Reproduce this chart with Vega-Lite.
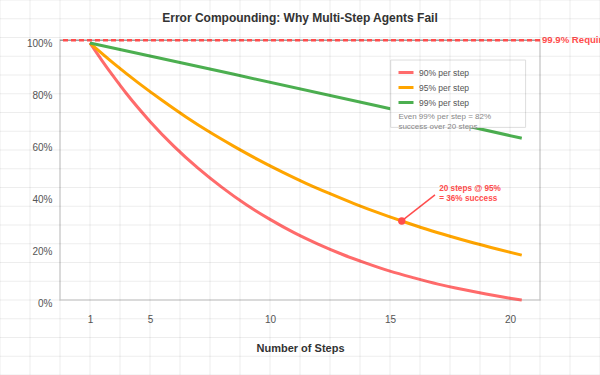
{
  "$schema": "https://vega.github.io/schema/vega-lite/v6.json",
  "width": 480,
  "height": 260,
  "autosize": {"type": "none"},
  "padding": {"left": 60, "top": 40, "right": 60, "bottom": 75},
  "background": "white",
  "config": {
    "font": "Liberation Sans",
    "view": {"stroke": "#d9d9d9", "strokeWidth": 1.5}
  },
  "datasets": {
    "curves": [
      {"series": "90% per step", "step": 2.5, "pct": 98.9},
      {"series": "90% per step", "step": 3.0, "pct": 92.1},
      {"series": "90% per step", "step": 3.5, "pct": 85.7},
      {"series": "90% per step", "step": 4.0, "pct": 79.6},
      {"series": "90% per step", "step": 5.0, "pct": 68.7},
      {"series": "90% per step", "step": 6.0, "pct": 59.1},
      {"series": "90% per step", "step": 7.0, "pct": 50.7},
      {"series": "90% per step", "step": 8.0, "pct": 43.3},
      {"series": "90% per step", "step": 9.0, "pct": 36.7},
      {"series": "90% per step", "step": 10.0, "pct": 31.0},
      {"series": "90% per step", "step": 11.0, "pct": 25.9},
      {"series": "90% per step", "step": 12.0, "pct": 21.5},
      {"series": "90% per step", "step": 13.0, "pct": 17.6},
      {"series": "90% per step", "step": 14.0, "pct": 14.2},
      {"series": "90% per step", "step": 15.0, "pct": 11.1},
      {"series": "90% per step", "step": 16.0, "pct": 8.5},
      {"series": "90% per step", "step": 17.0, "pct": 6.1},
      {"series": "90% per step", "step": 18.0, "pct": 4.1},
      {"series": "90% per step", "step": 19.0, "pct": 2.3},
      {"series": "90% per step", "step": 20.0, "pct": 0.7},
      {"series": "90% per step", "step": 20.49, "pct": 0.0},
      {"series": "95% per step", "step": 2.5, "pct": 98.8},
      {"series": "95% per step", "step": 3.5, "pct": 90.9},
      {"series": "95% per step", "step": 4.5, "pct": 83.6},
      {"series": "95% per step", "step": 5.5, "pct": 76.8},
      {"series": "95% per step", "step": 6.5, "pct": 70.4},
      {"series": "95% per step", "step": 7.5, "pct": 64.5},
      {"series": "95% per step", "step": 8.5, "pct": 59.1},
      {"series": "95% per step", "step": 9.5, "pct": 54.0},
      {"series": "95% per step", "step": 10.5, "pct": 49.3},
      {"series": "95% per step", "step": 11.5, "pct": 44.9},
      {"series": "95% per step", "step": 12.5, "pct": 40.9},
      {"series": "95% per step", "step": 13.5, "pct": 37.1},
      {"series": "95% per step", "step": 14.5, "pct": 33.6},
      {"series": "95% per step", "step": 15.49, "pct": 30.4},
      {"series": "95% per step", "step": 16.5, "pct": 27.3},
      {"series": "95% per step", "step": 17.5, "pct": 24.5},
      {"series": "95% per step", "step": 18.5, "pct": 21.9},
      {"series": "95% per step", "step": 19.5, "pct": 19.5},
      {"series": "95% per step", "step": 20.49, "pct": 17.25},
      {"series": "99% per step", "step": 2.5, "pct": 98.85},
      {"series": "99% per step", "step": 8.5, "pct": 86.8},
      {"series": "99% per step", "step": 14.5, "pct": 74.6},
      {"series": "99% per step", "step": 20.49, "pct": 62.2}
    ],
    "one": [{}],
    "note": [
      {"step": 15.35, "pct": 70.27, "text": "Even 99% per step = 82%"},
      {"step": 15.35, "pct": 66.65, "text": "success over 20 steps"}
    ],
    "callout": [
      {"step": 17.05, "pct": 42.7, "text": "20 steps @ 95%"},
      {"step": 17.05, "pct": 39.0, "text": "= 36% success"}
    ],
    "grid": [
      {"k": 0}, {"k": 1}, {"k": 2}, {"k": 3}, {"k": 4}, {"k": 5}, {"k": 6},
      {"k": 7}, {"k": 8}, {"k": 9}, {"k": 10}, {"k": 11}, {"k": 12}, {"k": 13},
      {"k": 14}, {"k": 15}, {"k": 16}, {"k": 17}, {"k": 18}, {"k": 19}, {"k": 20}
    ]
  },
  "layer": [
    {
      "layer": [
        {
          "data": {"name": "curves"},
          "mark": {"type": "line", "strokeWidth": 3, "interpolate": "monotone"},
          "encoding": {
            "x": {
              "field": "step",
              "type": "quantitative",
              "scale": {"domain": [1.25, 21.25], "nice": false, "zero": false},
              "axis": {
                "values": [2.5, 5, 10, 15, 20],
                "labelExpr": "datum.value == 2.5 ? '1' : datum.label",
                "domain": false,
                "ticks": false,
                "grid": false,
                "labelFontSize": 10,
                "labelColor": "#555555",
                "labelPadding": 14,
                "title": "Number of Steps",
                "titleFontSize": 11,
                "titleFontWeight": "bold",
                "titleColor": "#333333",
                "titlePadding": 18
              }
            },
            "y": {
              "field": "pct",
              "type": "quantitative",
              "scale": {"domain": [0, 100], "nice": false, "zero": false},
              "axis": {
                "values": [0, 20, 40, 60, 80, 100],
                "labelExpr": "datum.value + '%'",
                "domain": false,
                "ticks": false,
                "grid": false,
                "labelFontSize": 10,
                "labelColor": "#555555",
                "labelPadding": 8,
                "labelOffset": 3,
                "title": null
              }
            },
            "color": {
              "field": "series",
              "type": "nominal",
              "scale": {
                "domain": ["90% per step", "95% per step", "99% per step"],
                "range": ["#ff6b6b", "#ffa500", "#4caf50"]
              },
              "legend": {
                "orient": "none",
                "legendX": 337,
                "legendY": 23.5,
                "title": null,
                "symbolType": "stroke",
                "symbolStrokeWidth": 3,
                "symbolSize": 225,
                "labelFontSize": 8.5,
                "labelColor": "#555555",
                "rowPadding": 0,
                "padding": 0,
                "labelOffset": 4
              }
            }
          }
        },
        {
          "data": {"name": "one"},
          "mark": {"type": "rule", "color": "#888888", "strokeWidth": 1},
          "encoding": {"y": {"datum": 99.9, "type": "quantitative"}}
        },
        {
          "data": {"name": "one"},
          "mark": {"type": "rule", "color": "#ff4d4d", "strokeWidth": 2.5, "strokeDash": [5, 3]},
          "encoding": {"y": {"datum": 99.9, "type": "quantitative"}}
        },
        {
          "data": {"name": "one"},
          "mark": {"type": "text", "text": "99.9% Required", "color": "#ff4d4d", "fontWeight": "bold", "fontSize": 9.6, "align": "left", "baseline": "middle", "dx": 2},
          "encoding": {
            "x": {"datum": 21.25, "type": "quantitative"},
            "y": {"datum": 99.9, "type": "quantitative"}
          }
        },
        {
          "data": {"name": "one"},
          "mark": {"type": "text", "text": "Error Compounding: Why Multi-Step Agents Fail", "color": "#333333", "fontWeight": "bold", "fontSize": 12, "align": "center", "baseline": "middle"},
          "encoding": {
            "x": {"datum": 11.25, "type": "quantitative"},
            "y": {"datum": 108.4, "type": "quantitative"}
          }
        },
        {
          "data": {"name": "one"},
          "mark": {"type": "rect", "fill": "white", "stroke": "#dddddd", "strokeWidth": 1},
          "encoding": {
            "x": {"datum": 15.03, "type": "quantitative"},
            "x2": {"datum": 20.65},
            "y": {"datum": 92.3, "type": "quantitative"},
            "y2": {"datum": 66.4}
          }
        },
        {
          "data": {"name": "note"},
          "mark": {"type": "text", "color": "#888888", "fontSize": 8, "align": "left", "baseline": "middle"},
          "encoding": {
            "x": {"field": "step", "type": "quantitative"},
            "y": {"field": "pct", "type": "quantitative"},
            "text": {"field": "text"}
          }
        },
        {
          "data": {"name": "one"},
          "mark": {"type": "rule", "color": "#ff4d4d", "strokeWidth": 1.5},
          "encoding": {
            "x": {"datum": 15.49, "type": "quantitative"},
            "y": {"datum": 30.4, "type": "quantitative"},
            "x2": {"datum": 16.875},
            "y2": {"datum": 40.4}
          }
        },
        {
          "data": {"name": "one"},
          "mark": {"type": "point", "filled": true, "color": "#ff4d4d", "size": 55, "opacity": 1},
          "encoding": {
            "x": {"datum": 15.49, "type": "quantitative"},
            "y": {"datum": 30.4, "type": "quantitative"}
          }
        },
        {
          "data": {"name": "callout"},
          "mark": {"type": "text", "color": "#ff4d4d", "fontSize": 8.2, "fontWeight": "bold", "align": "left", "baseline": "middle"},
          "encoding": {
            "x": {"field": "step", "type": "quantitative"},
            "y": {"field": "pct", "type": "quantitative"},
            "text": {"field": "text"}
          }
        }
      ]
    },
    {
      "data": {"name": "grid"},
      "mark": {"type": "rule", "color": "#000000", "strokeWidth": 1, "opacity": 0.07},
      "encoding": {
        "x": {"field": "k", "type": "quantitative", "scale": {"domain": [2, 18], "nice": false, "zero": false}, "axis": null},
        "y": {"datum": 0, "type": "quantitative", "scale": {"domain": [2.13333, 16], "nice": false, "zero": false, "reverse": true}, "axis": null},
        "y2": {"datum": 20}
      }
    },
    {
      "data": {"name": "grid"},
      "mark": {"type": "rule", "color": "#000000", "strokeWidth": 1, "opacity": 0.07},
      "encoding": {
        "y": {"field": "k", "type": "quantitative", "scale": {"domain": [2.13333, 16], "nice": false, "zero": false, "reverse": true}, "axis": null},
        "x": {"datum": 0, "type": "quantitative", "scale": {"domain": [2, 18], "nice": false, "zero": false}, "axis": null},
        "x2": {"datum": 20}
      }
    }
  ],
  "resolve": {"scale": {"x": "independent", "y": "independent"}}
}
